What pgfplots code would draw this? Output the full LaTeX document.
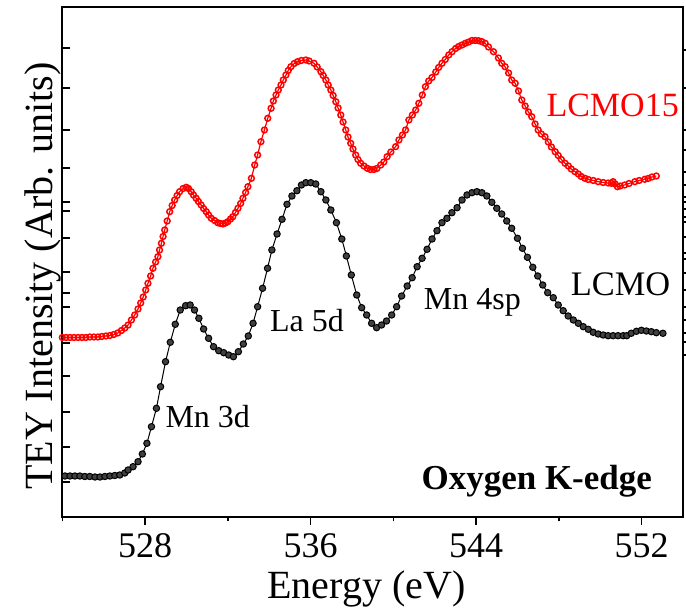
\documentclass[border=0pt]{standalone}
\usepackage{fontspec}
\setmainfont{Liberation Serif}
\usepackage{pgfplots}
\pgfplotsset{compat=1.18}
\begin{document}
\begin{tikzpicture}
\pgfplotsset{
  base/.style={
    scale only axis, width=310.35pt, height=255pt,
    xmin=524, xmax=554, ymin=0, ymax=510,
    axis line style={line width=0.8pt},
    every tick/.style={black, line width=0.7pt},
  }
}
% left y ticks (inside)
\begin{axis}[base,
  xtick=\empty,
  ytick={35,70,105,141,174,210,224,245,279,306,315,349,387,429,469},
  yticklabels={}, ytick pos=left, tick align=inside, major tick length=3.8pt]
\end{axis}
% right y ticks (outside)
\begin{axis}[base,
  xtick=\empty,
  ytick={162,175,184,197,210,227,244,258,264,280,295,300,308,315,320,332,345,367,387,429,467},
  yticklabels={}, ytick pos=right, tick align=outside, major tick length=3pt]
\end{axis}
\begin{axis}[base,
  clip=false,
  xtick={528,536,544,552}, minor xtick={524,532,540,548},
  xtick pos=left, tick align=outside,
  major tick length=4pt, minor tick length=2.2pt,
  ytick=\empty,
  /pgf/number format/assume math mode=true,
  xticklabel style={font=\fontsize{18}{20}\selectfont, anchor=base, yshift=-16.5pt},
]
% LCMO15 (red)
\addplot[red, line width=0.6pt, mark=o, mark size=1.45pt, mark options={line width=0.75pt, fill=white}] coordinates {
(524.00,179.5)(524.18,179.5)(524.37,179.5)(524.56,179.5)(524.76,179.5)(524.95,179.5)(525.14,179.5)(525.33,180)(525.53,180)(525.72,180)
(525.91,180.5)(526.11,181)(526.30,181.5)(526.49,182.5)(526.68,184)(526.86,186.5)(527.02,189)(527.18,192)(527.34,197)(527.50,202)
(527.66,208)(527.79,214)(527.91,220)(528.03,227)(528.14,233.7)(528.27,241)(528.38,248.7)(528.51,255)(528.62,260.3)(528.70,267)
(528.79,273.7)(528.87,280.5)(528.95,287)(529.07,296)(529.19,305.3)(529.31,311.5)(529.43,317)(529.55,321.5)(529.67,325.3)(529.84,328.5)
(529.99,329.7)(530.10,328.5)(530.23,325.3)(530.34,322)(530.47,318.7)(530.58,315.5)(530.71,312)(530.83,308.5)(530.96,305.3)(531.07,302)
(531.20,298.7)(531.36,296.5)(531.51,294.3)(531.64,293.5)(531.76,293)(531.89,294)(532.00,295.3)(532.13,298)(532.24,300.3)(532.37,304.5)
(532.49,308.7)(532.62,313.5)(532.73,318.7)(532.86,324.5)(532.97,330.3)(533.14,338.7)(533.30,352)(533.44,362)(533.60,375.3)(533.77,387)
(533.93,398.7)(534.09,408.7)(534.20,416)(534.33,422)(534.44,427)(534.57,432)(534.68,437)(534.81,442)(534.92,446.5)(535.05,450.3)
(535.21,453.5)(535.37,455.3)(535.55,456.5)(535.77,457)(535.93,456)(536.17,453.7)(536.32,450)(536.50,445.3)(536.61,441.5)(536.74,437)
(536.85,432)(536.98,427)(537.09,421.5)(537.22,415.3)(537.33,409)(537.46,402)(537.57,395)(537.70,387)(537.81,380)(537.94,373.7)
(538.05,368)(538.18,362)(538.29,357.5)(538.42,353.7)(538.58,351)(538.74,348.7)(538.89,347.5)(539.06,347.5)(539.20,348.5)(539.39,352)
(539.54,355)(539.70,360.3)(539.88,365)(540.11,370.3)(540.27,377)(540.44,382)(540.59,387)(540.75,397)(540.92,402)(541.08,407)
(541.23,413.7)(541.40,422)(541.55,430.3)(541.71,436)(541.87,439.5)(542.05,445)(542.19,449.5)(542.35,453.7)(542.51,457.5)(542.68,462)
(542.84,465.3)(543.01,468.5)(543.16,470.5)(543.32,472)(543.48,473.7)(543.64,475)(543.80,476.5)(543.96,476.5)(544.12,476.3)(544.28,475.3)
(544.44,473.7)(544.60,470)(544.84,465.3)(545.08,459)(545.24,453.7)(545.40,450.3)(545.57,444)(545.72,437)(545.89,433.7)(546.05,426)
(546.21,417)(546.37,411)(546.53,405)(546.69,400.3)(546.85,393)(547.00,387)(547.15,383)(547.33,380.3)(547.49,375)(547.64,370)
(547.82,365.3)(547.97,361.5)(548.12,357.5)(548.30,353.7)(548.46,351)(548.60,348)(548.78,345.3)(548.94,343)(549.08,340.5)(549.26,338.7)
(549.42,337.5)(549.66,336.5)(549.90,335.3)(550.14,334.5)(550.38,334)(550.54,333.7)(550.62,335.3)(550.72,333)(550.83,330.3)(550.96,331)
(551.18,332)(551.39,333.5)(551.67,335.3)(551.88,336.5)(552.15,337.7)(552.31,338.5)(552.50,340)(552.71,341)
};
% LCMO (black)
\addplot[black, line width=0.5pt, mark=*, mark size=1.6pt, mark options={fill=black!75, draw=black, line width=0.5pt}] coordinates {
(524.13,41)(524.37,41)(524.61,41)(524.85,41)(525.09,40.5)(525.33,40.5)(525.58,40)(525.82,40)(526.06,40.5)(526.30,41)
(526.54,41.5)(526.78,42)(527.02,44)(527.18,47)(527.42,50.3)(527.66,55.3)(527.87,63)(528.09,73.7)(528.31,90.3)(528.55,108.7)
(528.75,130.3)(528.99,155.3)(529.22,174.7)(529.46,192.7)(529.70,207)(529.96,211.3)(530.18,212)(530.39,207)(530.60,198.7)(530.83,188)
(531.07,178.7)(531.31,170.3)(531.56,166.3)(531.80,164.3)(532.04,162)(532.27,160.3)(532.51,165.3)(532.75,173)(532.99,181)(533.22,193.7)
(533.44,210.3)(533.68,228.7)(533.92,248.7)(534.13,267)(534.38,283)(534.62,297.7)(534.86,312.7)(535.10,321)(535.34,326.3)(535.56,332)
(535.77,334.3)(536.01,334.3)(536.25,333)(536.50,325.3)(536.74,317)(536.98,307)(537.25,294.3)(537.51,278)(537.73,261)(537.97,242)
(538.23,222)(538.47,209.3)(538.71,202)(538.95,193.7)(539.19,189.3)(539.43,192)(539.67,196)(539.92,202)(540.16,210.3)(540.40,221)
(540.67,231)(540.91,239.3)(541.15,250.3)(541.39,258.7)(541.63,267.7)(541.87,278)(542.11,286.3)(542.35,294.3)(542.59,298.7)(542.83,304.3)
(543.08,309.3)(543.32,317)(543.56,322)(543.80,324.3)(544.04,325.3)(544.28,324.3)(544.52,321)(544.76,314.7)(545.00,308.7)(545.24,303)
(545.48,296)(545.72,288.7)(546.00,278.7)(546.24,268.7)(546.48,259.7)(546.74,249.7)(546.98,241)(547.22,232)(547.46,224.3)(547.73,219.3)
(547.97,212)(548.21,206.3)(548.45,201)(548.70,197)(548.94,193.7)(549.18,190.3)(549.42,187.7)(549.66,184.7)(549.90,183)(550.14,182)
(550.38,181.3)(550.62,181.3)(550.86,181.3)(551.11,181.3)(551.28,181.3)(551.50,183.7)(551.75,185.7)(551.99,186.7)(552.23,186)(552.47,185.3)
(552.71,184.3)(553.03,183.7)
};
\node[red, anchor=base, font=\fontsize{17}{20}\selectfont] at (axis cs:550.6,400.3) {LCMO15};
\node[anchor=base, font=\fontsize{17.2}{20}\selectfont] at (axis cs:550.98,221) {LCMO};
\node[anchor=base, font=\fontsize{16}{19}\selectfont] at (axis cs:543.82,207) {Mn 4sp};
\node[anchor=base, font=\fontsize{16}{19}\selectfont] at (axis cs:535.83,185.3) {La 5d};
\node[anchor=base, font=\fontsize{16}{19}\selectfont] at (axis cs:531.03,89.7) {Mn 3d};
\node[anchor=base, font=\bfseries\fontsize{17.5}{20}\selectfont] at (axis cs:546.93,27) {Oxygen K-edge};
\node[anchor=base, rotate=90, font=\fontsize{20}{24}\selectfont] at (axis cs:523.55,241) {TEY Intensity (Arb. units)};
\node[anchor=base, font=\fontsize{20}{24}\selectfont] at (axis cs:538.7,-82) {Energy (eV)};
\end{axis}
\pgfresetboundingbox
\path[use as bounding box] (-31.15pt,-48.5pt) rectangle (311.85pt,258.5pt);
\end{tikzpicture}
\end{document}
